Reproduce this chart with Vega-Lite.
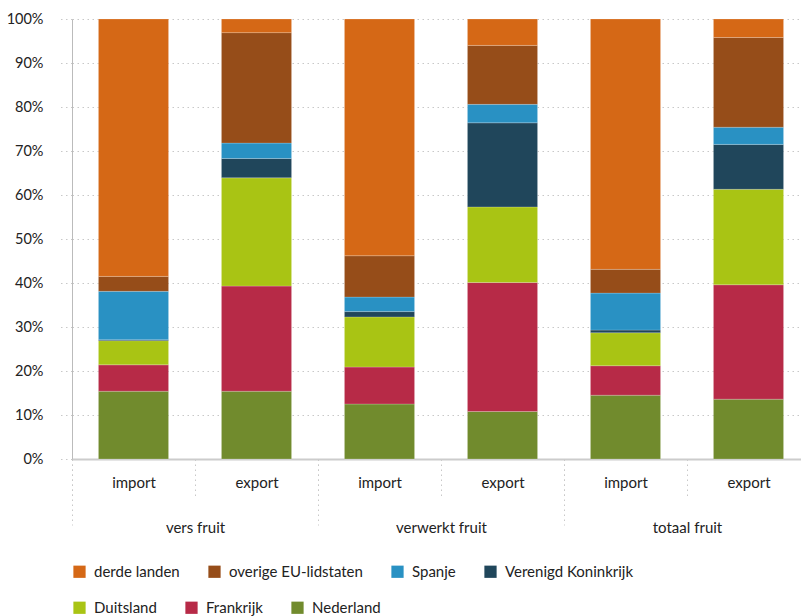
{
  "$schema": "https://vega.github.io/schema/vega-lite/v6.json",
  "width": 738,
  "height": 440,
  "autosize": "none",
  "padding": {"left": 72, "top": 19, "right": 0, "bottom": 157},
  "config": {
    "font": "Lato",
    "view": {"stroke": null},
    "axis": {"labelColor": "#222", "labelFont": "Lato"},
    "legend": {
      "labelColor": "#222",
      "labelFont": "Lato",
      "layout": {"bottom": {"anchor": "start", "direction": "vertical", "margin": 20}}
    }
  },
  "data": {
    "values": [
      {"kolom": "vers fruit|import", "groep": "vers fruit", "land": "Nederland", "rang": 1, "aandeel": 15.4},
      {"kolom": "vers fruit|import", "groep": "vers fruit", "land": "Frankrijk", "rang": 2, "aandeel": 6.0},
      {"kolom": "vers fruit|import", "groep": "vers fruit", "land": "Duitsland", "rang": 3, "aandeel": 5.5},
      {"kolom": "vers fruit|import", "groep": "vers fruit", "land": "Verenigd Koninkrijk", "rang": 4, "aandeel": 0.2},
      {"kolom": "vers fruit|import", "groep": "vers fruit", "land": "Spanje", "rang": 5, "aandeel": 11.0},
      {"kolom": "vers fruit|import", "groep": "vers fruit", "land": "overige EU-lidstaten", "rang": 6, "aandeel": 3.4},
      {"kolom": "vers fruit|import", "groep": "vers fruit", "land": "derde landen", "rang": 7, "aandeel": 58.5},
      {"kolom": "vers fruit|export", "groep": "vers fruit", "land": "Nederland", "rang": 1, "aandeel": 15.4},
      {"kolom": "vers fruit|export", "groep": "vers fruit", "land": "Frankrijk", "rang": 2, "aandeel": 23.9},
      {"kolom": "vers fruit|export", "groep": "vers fruit", "land": "Duitsland", "rang": 3, "aandeel": 24.6},
      {"kolom": "vers fruit|export", "groep": "vers fruit", "land": "Verenigd Koninkrijk", "rang": 4, "aandeel": 4.4},
      {"kolom": "vers fruit|export", "groep": "vers fruit", "land": "Spanje", "rang": 5, "aandeel": 3.5},
      {"kolom": "vers fruit|export", "groep": "vers fruit", "land": "overige EU-lidstaten", "rang": 6, "aandeel": 25.1},
      {"kolom": "vers fruit|export", "groep": "vers fruit", "land": "derde landen", "rang": 7, "aandeel": 3.1},
      {"kolom": "verwerkt fruit|import", "groep": "verwerkt fruit", "land": "Nederland", "rang": 1, "aandeel": 12.5},
      {"kolom": "verwerkt fruit|import", "groep": "verwerkt fruit", "land": "Frankrijk", "rang": 2, "aandeel": 8.4},
      {"kolom": "verwerkt fruit|import", "groep": "verwerkt fruit", "land": "Duitsland", "rang": 3, "aandeel": 11.4},
      {"kolom": "verwerkt fruit|import", "groep": "verwerkt fruit", "land": "Verenigd Koninkrijk", "rang": 4, "aandeel": 1.2},
      {"kolom": "verwerkt fruit|import", "groep": "verwerkt fruit", "land": "Spanje", "rang": 5, "aandeel": 3.3},
      {"kolom": "verwerkt fruit|import", "groep": "verwerkt fruit", "land": "overige EU-lidstaten", "rang": 6, "aandeel": 9.4},
      {"kolom": "verwerkt fruit|import", "groep": "verwerkt fruit", "land": "derde landen", "rang": 7, "aandeel": 53.8},
      {"kolom": "verwerkt fruit|export", "groep": "verwerkt fruit", "land": "Nederland", "rang": 1, "aandeel": 10.8},
      {"kolom": "verwerkt fruit|export", "groep": "verwerkt fruit", "land": "Frankrijk", "rang": 2, "aandeel": 29.3},
      {"kolom": "verwerkt fruit|export", "groep": "verwerkt fruit", "land": "Duitsland", "rang": 3, "aandeel": 17.2},
      {"kolom": "verwerkt fruit|export", "groep": "verwerkt fruit", "land": "Verenigd Koninkrijk", "rang": 4, "aandeel": 19.1},
      {"kolom": "verwerkt fruit|export", "groep": "verwerkt fruit", "land": "Spanje", "rang": 5, "aandeel": 4.2},
      {"kolom": "verwerkt fruit|export", "groep": "verwerkt fruit", "land": "overige EU-lidstaten", "rang": 6, "aandeel": 13.4},
      {"kolom": "verwerkt fruit|export", "groep": "verwerkt fruit", "land": "derde landen", "rang": 7, "aandeel": 6.0},
      {"kolom": "totaal fruit|import", "groep": "totaal fruit", "land": "Nederland", "rang": 1, "aandeel": 14.5},
      {"kolom": "totaal fruit|import", "groep": "totaal fruit", "land": "Frankrijk", "rang": 2, "aandeel": 6.7},
      {"kolom": "totaal fruit|import", "groep": "totaal fruit", "land": "Duitsland", "rang": 3, "aandeel": 7.5},
      {"kolom": "totaal fruit|import", "groep": "totaal fruit", "land": "Verenigd Koninkrijk", "rang": 4, "aandeel": 0.6},
      {"kolom": "totaal fruit|import", "groep": "totaal fruit", "land": "Spanje", "rang": 5, "aandeel": 8.4},
      {"kolom": "totaal fruit|import", "groep": "totaal fruit", "land": "overige EU-lidstaten", "rang": 6, "aandeel": 5.4},
      {"kolom": "totaal fruit|import", "groep": "totaal fruit", "land": "derde landen", "rang": 7, "aandeel": 56.9},
      {"kolom": "totaal fruit|export", "groep": "totaal fruit", "land": "Nederland", "rang": 1, "aandeel": 13.6},
      {"kolom": "totaal fruit|export", "groep": "totaal fruit", "land": "Frankrijk", "rang": 2, "aandeel": 26.0},
      {"kolom": "totaal fruit|export", "groep": "totaal fruit", "land": "Duitsland", "rang": 3, "aandeel": 21.7},
      {"kolom": "totaal fruit|export", "groep": "totaal fruit", "land": "Verenigd Koninkrijk", "rang": 4, "aandeel": 10.2},
      {"kolom": "totaal fruit|export", "groep": "totaal fruit", "land": "Spanje", "rang": 5, "aandeel": 3.9},
      {"kolom": "totaal fruit|export", "groep": "totaal fruit", "land": "overige EU-lidstaten", "rang": 6, "aandeel": 20.4},
      {"kolom": "totaal fruit|export", "groep": "totaal fruit", "land": "derde landen", "rang": 7, "aandeel": 4.2}
    ]
  },
  "layer": [
    {
      "mark": {"type": "bar", "width": {"band": 0.57}, "stroke": "white", "strokeWidth": 0.5, "strokeOpacity": 0.4},
      "encoding": {
        "x": {
          "field": "kolom",
          "type": "nominal",
          "sort": ["vers fruit|import", "vers fruit|export", "verwerkt fruit|import", "verwerkt fruit|export", "totaal fruit|import", "totaal fruit|export"],
          "scale": {"paddingInner": 0, "paddingOuter": 0},
          "axis": {
            "title": null,
            "labelExpr": "split(datum.label, '|')[1]",
            "labelAngle": 0,
            "labelFontSize": 15,
            "labelPadding": -24,
            "tickBand": "extent",
            "tickSize": 40,
            "tickDash": [1.5, 3.5],
            "tickColor": "#c8c8c8",
            "domainColor": "#cccccc",
            "domainWidth": 2,
            "grid": false
          }
        },
        "y": {
          "field": "aandeel",
          "type": "quantitative",
          "stack": "normalize",
          "scale": {"domain": [0, 1]},
          "axis": {
            "title": null,
            "format": ".0%",
            "values": [0, 0.1, 0.2, 0.3, 0.4, 0.5, 0.6, 0.7, 0.8, 0.9, 1],
            "labelFontSize": 14.5,
            "labelPadding": 14,
            "tickSize": 15,
            "tickDash": [1.5, 3.5],
            "tickColor": "#c8c8c8",
            "grid": true,
            "gridDash": [1.5, 3.5],
            "gridColor": "#c8c8c8",
            "domainColor": "#bbbbbb"
          }
        },
        "order": {"field": "rang", "type": "quantitative", "sort": "ascending"},
        "color": {
          "field": "land",
          "type": "nominal",
          "scale": {
            "domain": ["derde landen", "overige EU-lidstaten", "Spanje", "Verenigd Koninkrijk", "Duitsland", "Frankrijk", "Nederland"],
            "range": ["#d56816", "#964d19", "#2991c3", "#20465b", "#a9c414", "#b72a47", "#718b2d"]
          },
          "legend": {
            "title": null,
            "orient": "bottom",
            "direction": "horizontal",
            "values": ["derde landen", "overige EU-lidstaten", "Spanje", "Verenigd Koninkrijk"],
            "symbolType": "square",
            "symbolSize": 150,
            "symbolStrokeWidth": 0,
            "symbolOpacity": 1,
            "labelFontSize": 15,
            "labelOffset": 7,
            "labelLimit": 300,
            "columnPadding": 27,
            "offset": 29
          }
        }
      }
    },
    {
      "mark": {"type": "tick", "opacity": 0},
      "encoding": {
        "x": {
          "field": "groep",
          "type": "nominal",
          "sort": ["vers fruit", "verwerkt fruit", "totaal fruit"],
          "scale": {"paddingInner": 0, "paddingOuter": 0},
          "axis": {
            "orient": "bottom",
            "title": null,
            "domain": false,
            "labelAngle": 0,
            "labelFontSize": 15,
            "labelPadding": -5,
            "tickBand": "extent",
            "tickSize": 66,
            "tickDash": [1.5, 3.5],
            "tickColor": "#c8c8c8",
            "grid": false
          }
        },
        "fill": {
          "field": "land",
          "type": "nominal",
          "scale": {
            "domain": ["Duitsland", "Frankrijk", "Nederland", "derde landen", "overige EU-lidstaten", "Spanje", "Verenigd Koninkrijk"],
            "range": ["#a9c414", "#b72a47", "#718b2d", "#d56816", "#964d19", "#2991c3", "#20465b"]
          },
          "legend": {
            "title": null,
            "orient": "bottom",
            "direction": "horizontal",
            "values": ["Duitsland", "Frankrijk", "Nederland"],
            "symbolType": "square",
            "symbolSize": 150,
            "symbolStrokeWidth": 0,
            "symbolOpacity": 1,
            "labelFontSize": 15,
            "labelOffset": 7,
            "labelLimit": 300,
            "columnPadding": 27,
            "offset": 29
          }
        }
      }
    }
  ],
  "resolve": {"scale": {"x": "independent"}}
}
